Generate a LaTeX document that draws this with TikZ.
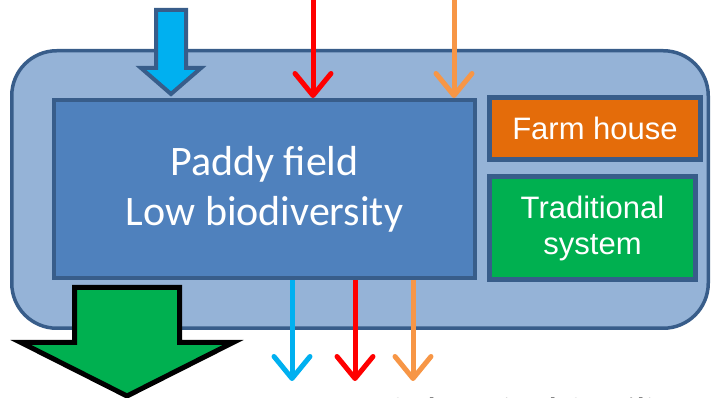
\documentclass[tikz,border=0pt]{standalone}
\usepackage{fontspec}
\setmainfont{Carlito}
\newfontfamily\arialfont{Liberation Sans}
\usetikzlibrary{arrows.meta}
\definecolor{edgeblue}{HTML}{385D8A}
\definecolor{lightfield}{HTML}{95B3D7}
\definecolor{fieldblue}{HTML}{4F81BD}
\definecolor{skyblue}{HTML}{00B0F0}
\definecolor{farmorange}{HTML}{E46C0A}
\definecolor{tradgreen}{HTML}{00B050}
\definecolor{lightorange}{HTML}{F79646}
\tikzset{
  box/.style={draw=edgeblue,line width=4pt,inner sep=0pt,text=white,align=center},
  flow/.style={line width=5pt,-{Straight Barb[length=22pt,width=36pt,round]}},
}
\begin{document}
\begin{tikzpicture}[x=1pt,y=-1pt]
\useasboundingbox (0,0) rectangle (713,398);
\node[draw=edgeblue,line width=3.5pt,fill=lightfield,rounded corners=45pt,minimum width=696.5pt,minimum height=277.5pt] (farm) at (360,189.5) {};
\node[box,fill=fieldblue,minimum width=421pt,minimum height=178pt,font=\fontsize{42}{50}\selectfont] (paddy) at (264.5,189) {Paddy field\\Low biodiversity};
\node[box,line width=5pt,fill=farmorange,minimum width=211pt,minimum height=62pt,font=\arialfont\fontsize{31}{36}\selectfont] (house) at (595,128.5) {Farm house};
\node[box,line width=5pt,fill=tradgreen,minimum width=206pt,minimum height=103pt,font=\arialfont\fontsize{31}{36}\selectfont] (trad) at (592.5,228) {Traditional\\system};
% inputs
\draw[draw=edgeblue,line width=4pt,fill=skyblue] (156,10) -- (186,10) -- (186,68) -- (201,68) -- (171,94) -- (141,68) -- (156,68) -- cycle;
\coordinate (redin) at (313,0);
\coordinate (orangein) at (454,0);
\draw[flow,red] (redin) -- (redin |- paddy.north);
\draw[flow,lightorange] (orangein) -- (orangein |- paddy.north);
% outputs
\coordinate (blueout) at (292,381);
\coordinate (redout) at (355,381);
\coordinate (orangeout) at (413,381);
\draw[flow,skyblue] (blueout |- paddy.south) -- (blueout);
\draw[flow,red] (redout |- paddy.south) -- (redout);
\draw[flow,lightorange] (orangeout |- paddy.south) -- (orangeout);
\draw[draw=black,line width=5pt,fill=tradgreen] (74.5,287.5) -- (179.5,287.5) -- (179.5,342.5) -- (233,342.5) -- (127,396) -- (21,342.5) -- (74.5,342.5) -- cycle;
\node[anchor=base west,inner sep=0pt,font=\fontsize{41}{49}\selectfont] (source) at (244,426) {Source of chemical fertilizer};
\end{tikzpicture}
\end{document}
